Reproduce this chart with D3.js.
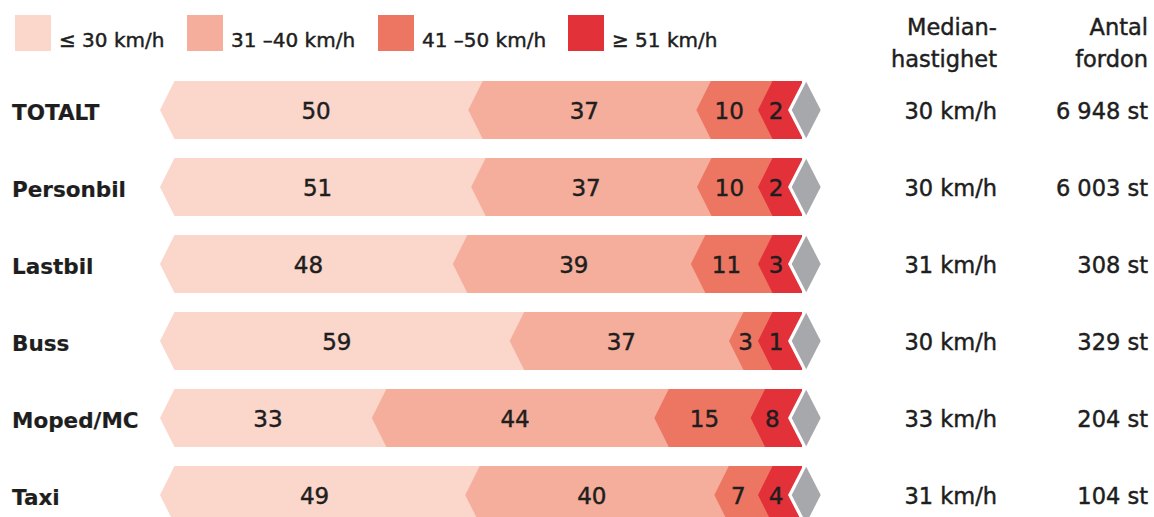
<!DOCTYPE html>
<html><head><meta charset="utf-8">
<script src="https://cdn.jsdelivr.net/npm/d3@7/dist/d3.min.js"></script>
<style>
html,body{margin:0;padding:0;background:#fff;}
svg{display:block;}
text{font-family:"DejaVu Sans",sans-serif;fill:#1e1e1e;stroke:#1e1e1e;stroke-width:0.45px;}
text.cat{stroke-width:0.2px;}
</style></head>
<body><svg id="c" width="1154" height="517"></svg>
<script>
const categories = ["TOTALT","Personbil","Lastbil","Buss","Moped/MC","Taxi"];
const s30 = [50,51,48,59,33,49];
const s40 = [37,37,39,37,44,40];
const s50 = [10,10,11,3,15,7];
const s51 = [2,2,3,1,8,4];
const medianSpeed = [30,30,31,30,33,31];
const vehicleCount = [6948,6003,308,329,204,104];
const legendLabels = ["≤ 30 km/h","31 –40 km/h","41 –50 km/h","≥ 51 km/h"];
const colors = ["#fbd6cb","#f4ae9b","#ec7662","#e3313a"];
const headerMedian = ["Median-","hastighet"];
const headerCount = ["Antal","fordon"];

const svg = d3.select("#c");
const xStart = 160, xEnd = 802, chev = 14.5;
const minW = [0, 29, 29, 44];

const y = d3.scaleBand().domain(categories).range([81, 524]).paddingInner(19/77).paddingOuter(0);
const bw = y.bandwidth();

// legend
const lg = svg.append("g");
const legX = [15, 187, 378, 568];
legendLabels.forEach((l,i)=>{
  lg.append("rect").attr("x",legX[i]).attr("y",15).attr("width",36).attr("height",36).attr("fill",colors[i]);
  lg.append("text").attr("x",legX[i]+44).attr("y",47).attr("font-size",20).text(l);
});

// headers
[[headerMedian,997],[headerCount,1148]].forEach(([lines,x])=>{
  lines.forEach((t,j)=>{
    svg.append("text").attr("x",x).attr("y",35+j*31.5).attr("text-anchor","end").attr("font-size",22.5).text(t);
  });
});

function layout(vals){
  const W = xEnd - xStart;
  let fixed = vals.map(()=>false);
  let widths;
  for(let it=0; it<5; it++){
    const fixedSum = d3.sum(vals, (v,i)=>fixed[i]?minW[i]:0);
    const freeSum = d3.sum(vals, (v,i)=>fixed[i]?0:v);
    const sc = d3.scaleLinear().domain([0,freeSum]).range([0,W-fixedSum]);
    widths = vals.map((v,i)=>fixed[i]?minW[i]:sc(v));
    let changed=false;
    widths.forEach((w,i)=>{ if(!fixed[i] && w<minW[i]){fixed[i]=true;changed=true;} });
    if(!changed) break;
  }
  const starts=[]; let acc=xStart;
  widths.forEach(w=>{starts.push(acc); acc+=w;});
  return starts;
}

const fmtCount = n => d3.format(",")(n).replace(/,/g," ") + " st";

categories.forEach((cat,r)=>{
  const vals=[s30[r],s40[r],s50[r],s51[r]];
  const top=y(cat), bot=top+bw, mid=top+bw/2;
  const starts=layout(vals);
  const g=svg.append("g");
  starts.forEach((x0,i)=>{
    g.append("polygon")
      .attr("points",[[x0,mid],[x0+chev,top],[xEnd,top],[xEnd,bot],[x0+chev,bot]].map(p=>p.join(",")).join(" "))
      .attr("fill",colors[i]);
  });
  starts.forEach((x0,i)=>{
    let tx;
    if(i<3) tx=(x0+starts[i+1])/2+2;
    else tx=(x0+chev/2+787)/2;
    g.append("text").attr("x",tx).attr("y",mid+8.5).attr("text-anchor","middle").attr("font-size",23).text(vals[i]);
  });
  const cx=806.2;
  g.append("polygon")
    .attr("points",[[cx-14.5,mid],[cx,top+0.8],[cx+14.5,mid],[cx,bot-0.8]].map(p=>p.join(",")).join(" "))
    .attr("fill","#a7a8ac").attr("stroke","#fff").attr("stroke-width",6.5).attr("stroke-linejoin","miter")
    .attr("paint-order","stroke");
  svg.append("text").attr("class","cat").attr("x",12).attr("y",mid+9.5).attr("font-size",21.5).attr("font-weight","bold").text(cat);
  svg.append("text").attr("x",997).attr("y",mid+9).attr("text-anchor","end").attr("font-size",22.5).text(medianSpeed[r]+" km/h");
  svg.append("text").attr("x",1148).attr("y",mid+9).attr("text-anchor","end").attr("font-size",22.5).text(fmtCount(vehicleCount[r]));
});
</script></body></html>
